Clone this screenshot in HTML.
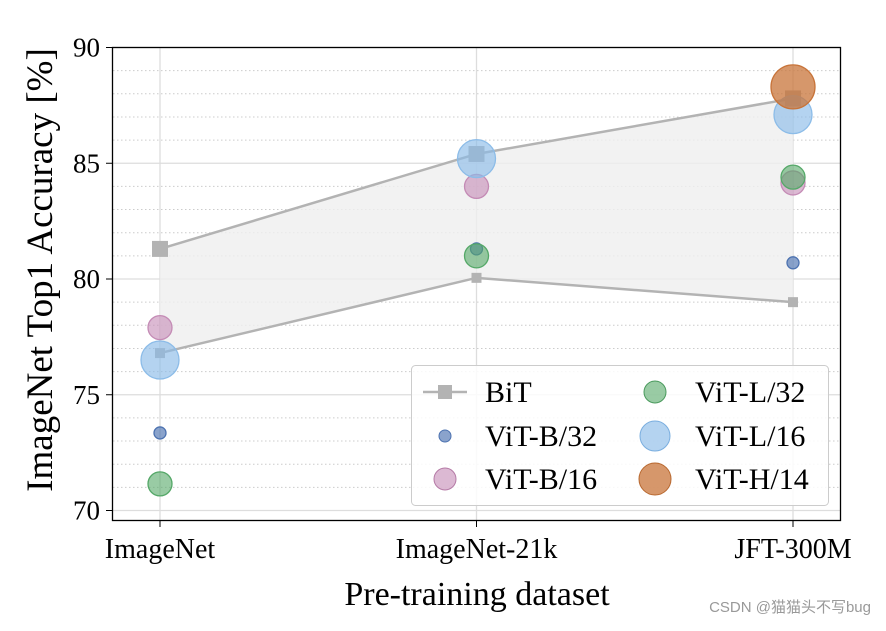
<!DOCTYPE html>
<html><head><meta charset="utf-8"><style>
body{margin:0;background:#fff;}
svg text{font-family:"Liberation Serif",serif;fill:#000;}
</style></head><body>
<svg id="chart" width="886" height="626" xmlns="http://www.w3.org/2000/svg">
<g id="grid"></g>
<g id="marks"></g>
<rect x="112.5" y="47.5" width="728" height="473" fill="none" stroke="#000" stroke-width="1.3"/>
<g id="axes"></g>
<text x="40" y="270" font-size="37" text-anchor="middle" transform="rotate(-90 40 270)" dy="12">ImageNet Top1 Accuracy [%]</text>
<text x="477" y="605" font-size="34" text-anchor="middle">Pre-training dataset</text>
<text x="871" y="612" font-size="15" text-anchor="end" style="font-family:'Liberation Sans','Noto Sans CJK SC',sans-serif;fill:#999">CSDN @猫猫头不写bug</text>
<g>
<rect x="411.5" y="365.5" width="417" height="140" rx="4" fill="#fff" fill-opacity="0.85" stroke="#ccc"/>
<g><line x1="423" y1="392" x2="467" y2="392" stroke="#b3b3b3" stroke-width="2.5"/><rect x="438" y="385" width="14" height="14" fill="#b3b3b3"/><text x="485" y="402" font-size="30">BiT</text></g>
<g><circle cx="445" cy="436" r="6" fill="#4c72b0" fill-opacity="0.65" stroke="#4c72b0"/><text x="485" y="446" font-size="30">ViT-B/32</text></g>
<g><circle cx="445" cy="479" r="11" fill="#c48bb5" fill-opacity="0.6" stroke="#b57aa6"/><text x="485" y="489" font-size="30">ViT-B/16</text></g>
<g><circle cx="655" cy="392" r="11" fill="#55a868" fill-opacity="0.6" stroke="#4a9a5d"/><text x="695" y="402" font-size="30">ViT-L/32</text></g>
<g><circle cx="655" cy="436" r="15" fill="#8cbce8" fill-opacity="0.65" stroke="#7aaedf"/><text x="695" y="446" font-size="30">ViT-L/16</text></g>
<g><circle cx="655" cy="479" r="16" fill="#c8743a" fill-opacity="0.75" stroke="#b8682f"/><text x="695" y="489" font-size="30">ViT-H/14</text></g>
</g>
</svg>
<script>
const categories=["ImageNet","ImageNet-21k","JFT-300M"];
const yTicks=[70,75,80,85,90];
const bitUpper=[81.3,85.4,87.8];
const bitLower=[76.8,80.05,79.0];
const vitB32=[73.35,81.3,80.7];
const vitB16=[77.9,84.0,84.15];
const vitL32=[71.15,81.0,84.4];
const vitL16=[76.5,85.2,87.1];
const vitH14=[null,null,88.3];
const NS="http://www.w3.org/2000/svg";
function x(i){return 160+i*316.5;}
function y(v){return 47.5+(90-v)*23.15;}
function mk(t,a,p){const e=document.createElementNS(NS,t);for(const k in a)e.setAttribute(k,a[k]);p.appendChild(e);return e;}
const grid=document.getElementById('grid'),marks=document.getElementById('marks'),axes=document.getElementById('axes');
for(let v=70;v<=89;v++){if(v%5){const l=mk('line',{x1:113,x2:840,y1:y(v),y2:y(v),stroke:'#ccc','stroke-dasharray':'1.5,2.5','stroke-width':1},grid);

}}
yTicks.forEach(v=>{const l=mk('line',{x1:113,x2:840,y1:y(v),y2:y(v),stroke:'#ddd','stroke-width':1.3},grid);


const tk=mk('line',{x1:106,x2:112,y1:y(v),y2:y(v),stroke:'#000'},axes);


const t=mk('text',{x:100,y:y(v)+9,'font-size':27,'text-anchor':'end'},axes);t.textContent=v;

});
categories.forEach((c,i)=>{const l=mk('line',{x1:x(i),x2:x(i),y1:48,y2:520,stroke:'#ddd','stroke-width':1.3},grid);


const tk=mk('line',{x1:x(i),x2:x(i),y1:521,y2:527,stroke:'#000'},axes);


const t=mk('text',{x:x(i),y:558,'font-size':28,'text-anchor':'middle'},axes);t.textContent=c;

});
let pts=bitUpper.map((v,i)=>x(i)+','+y(v)).concat(bitLower.map((v,i)=>[i,v]).reverse().map(([i,v])=>x(i)+','+y(v)));
const band=mk('polygon',{points:pts.join(' '),fill:'#efefef','fill-opacity':0.8},marks);


[bitUpper,bitLower].forEach((arr,k)=>{const pl=mk('polyline',{points:arr.map((v,i)=>x(i)+','+y(v)).join(' '),fill:'none',stroke:'#b3b3b3','stroke-width':2.5},marks);


arr.forEach((v,i)=>{const s=k?10:16;const r=mk('rect',{x:x(i)-s/2,y:y(v)-s/2,width:s,height:s,fill:'#b3b3b3'},marks);

});});
const series=[["vit-b32",vitB32,6,'#4c72b0',0.65],["vit-b16",vitB16,12,'#c48bb5',0.6],["vit-l32",vitL32,12,'#55a868',0.6],["vit-l16",vitL16,19,'#8cbce8',0.65],["vit-h14",vitH14,22,'#c8743a',0.75]];
series.forEach(([n,arr,r,col,op])=>arr.forEach((v,i)=>{if(v==null)return;const c=mk('circle',{cx:x(i),cy:y(v),r:r,fill:col,'fill-opacity':op,stroke:col,'stroke-width':1.3},marks);

}));
</script>
</body></html>
